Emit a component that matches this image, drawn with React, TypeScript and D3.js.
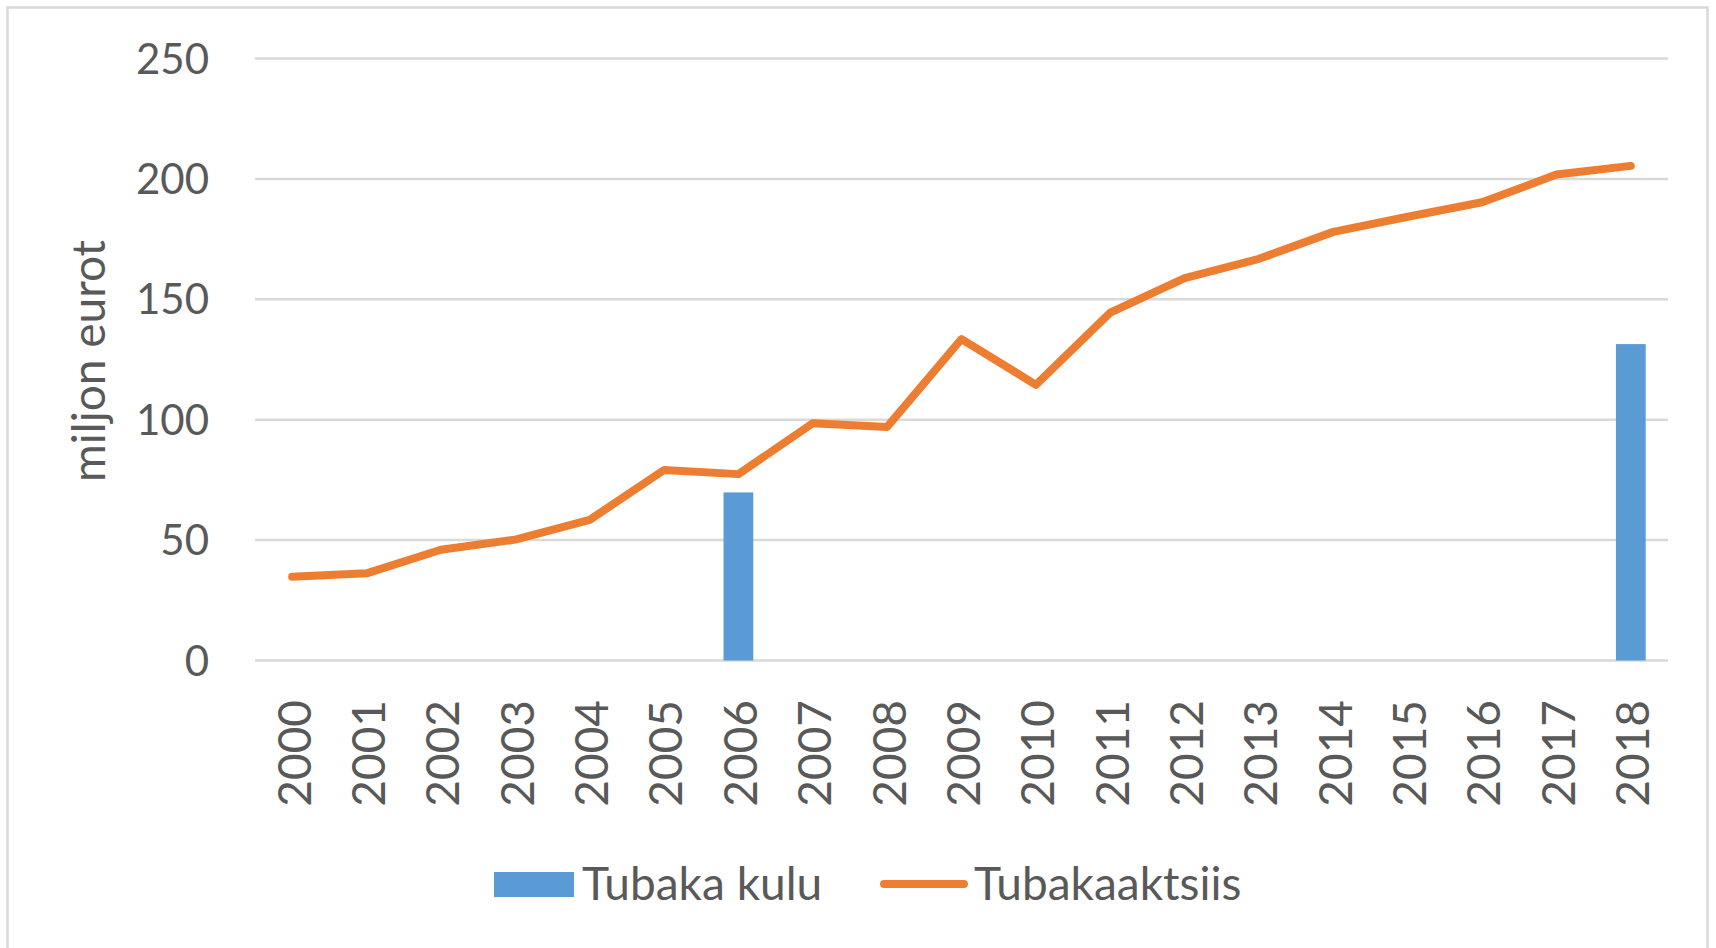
import React from "react";
import * as d3 from "d3";

const years = [
  "2000", "2001", "2002", "2003", "2004", "2005", "2006", "2007", "2008", "2009",
  "2010", "2011", "2012", "2013", "2014", "2015", "2016", "2017", "2018",
];
// Tubaka kulu (bars) - only two years have values
const kuluYears = ["2006", "2018"];
const kuluValues = [69.8, 131.4];
// Tubakaaktsiis (line)
const aktsiisValues = [
  34.8, 36.2, 46, 50.2, 58.4, 79.1, 77.4, 98.5, 97, 133.5,
  114.5, 144.5, 158.8, 166.8, 178, 184.3, 190.3, 201.8, 205.4,
];
const yTicks = [0, 50, 100, 150, 200, 250];

const W = 1716;
const H = 948;
const textColor = "#595959";
const gridColor = "#D9D9D9";
const blue = "#5B9BD5";
const orange = "#ED7D31";
const font = "Lato, 'Open Sans', sans-serif";

export default function App() {
  const x = d3.scaleBand().domain(years).range([255, 1668]).paddingInner(0.6).paddingOuter(0.3);
  const y = d3.scaleLinear().domain([0, 250]).range([660.5, 58.5]);
  const cx = (yr: string) => (x(yr) as number) + x.bandwidth() / 2;

  const line = d3
    .line<number>()
    .x((_, i) => cx(years[i]))
    .y((d) => y(d));

  return (
    <svg
      width={W}
      height={H}
      style={{ position: "absolute", left: 0, top: 0, background: "#fff" }}
      fontFamily={font}
    >
      <rect x={0} y={0} width={W} height={H} fill="#fff" />
      <rect x={7.5} y={7.5} width={1700} height={960} fill="none" stroke={gridColor} strokeWidth={2.5} />

      {/* gridlines */}
      {yTicks.map((t) => (
        <line key={t} x1={255} x2={1668} y1={y(t)} y2={y(t)} stroke={gridColor} strokeWidth={2.5} />
      ))}

      {/* y tick labels */}
      {yTicks.map((t) => (
        <text key={"l" + t} x={209} y={y(t)} dy="0.36em" textAnchor="end" fontSize={42} fill={textColor}>
          {t}
        </text>
      ))}

      {/* y axis title */}
      <text transform="translate(105,361) rotate(-90)" textAnchor="middle" fontSize={46} fill={textColor}>
        miljon eurot
      </text>

      {/* bars */}
      {kuluYears.map((yr, i) => (
        <rect
          key={yr}
          x={x(yr)}
          y={y(kuluValues[i])}
          width={x.bandwidth()}
          height={y(0) - y(kuluValues[i])}
          fill={blue}
        />
      ))}

      {/* line */}
      <path
        d={line(aktsiisValues) || ""}
        fill="none"
        stroke={orange}
        strokeWidth={8}
        strokeLinejoin="round"
        strokeLinecap="round"
      />

      {/* x tick labels */}
      {years.map((yr) => (
        <text
          key={yr}
          transform={`translate(${cx(yr)},700) rotate(-90)`}
          dy="0.4em"
          textAnchor="end"
          fontSize={46}
          fill={textColor}
        >
          {yr}
        </text>
      ))}

      {/* legend */}
      <rect x={494} y={872} width={80} height={25} fill={blue} />
      <text x={582} y={900} fontSize={46} fill={textColor}>
        Tubaka kulu
      </text>
      <line x1={884} x2={964} y1={884} y2={884} stroke={orange} strokeWidth={8} strokeLinecap="round" />
      <text x={974} y={900} fontSize={46} fill={textColor}>
        Tubakaaktsiis
      </text>
    </svg>
  );
}
